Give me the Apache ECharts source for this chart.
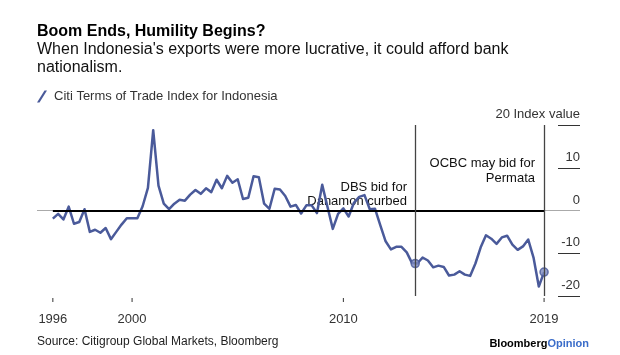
<!DOCTYPE html>
<html><head><meta charset="utf-8">
<script src="https://cdn.jsdelivr.net/npm/echarts@6/dist/echarts.min.js"></script>
<style>html,body{margin:0;padding:0;background:#fff}#c{width:620px;height:355px}</style>
</head><body><div id="c"></div>
<script>
// Citi Terms of Trade Index for Indonesia, quarterly, first point 1996 Q1
const firstQuarter = 1996.25;
const tradeIndex = [
  -1.9, -0.8, -2.1, 0.9, -3.1, -2.7, 0.3, -5.0, -4.5, -5.2,
  -4.1, -6.7, -5.0, -3.3, -1.8, -1.8, -1.8, 1.0, 5.3, 18.8,
  5.8, 1.6, 0.3, 1.6, 2.5, 2.3, 3.7, 4.8, 3.9, 5.2,
  4.3, 7.2, 5.2, 8.1, 6.5, 7.3, 2.7, 3.0, 8.0, 7.8,
  1.6, 0.4, 5.1, 4.9, 3.4, 0.9, 1.3, -0.7, 1.2, 1.2,
  -0.6, 6.0, 0.8, -4.3, -0.8, 0.5, -1.4, 1.8, 3.2, 3.6,
  0.3, 0.4, -3.5, -7.2, -9.1, -8.5, -8.5, -9.8, -12.3, -12.4,
  -11.0, -11.7, -13.3, -12.9, -13.2, -15.2, -15.0, -14.2, -15.0, -15.3,
  -12.4, -8.6, -5.8, -6.6, -7.8, -6.3, -5.9, -8.0, -9.2, -8.4,
  -6.8, -11.0, -17.8, -14.4
];
const quarterDates = tradeIndex.map((_, i) => firstQuarter + i * 0.25);

const xTickValues = [1996.25, 2000, 2010, 2019.5];
const xTickLabels = ['1996', '2000', '2010', '2019'];
const yTopLabel = '20 Index value';

const eventDates = [2013.4, 2019.5];
const eventValues = [-12.4, -14.4];
const eventTexts = ['DBS bid for\nDanamon curbed', 'OCBC may bid for\nPermata'];

const titleText = 'Boom Ends, Humility Begins?';
const subtitleText = "When Indonesia's exports were more lucrative, it could afford bank\nnationalism.";
const seriesName = 'Citi Terms of Trade Index for Indonesia';
const sourceText = 'Source: Citigroup Global Markets, Bloomberg';

const FONT = '"Liberation Sans", Arial, Helvetica, sans-serif';
const LINE = '#4a5a9a';
const Y_MIN = -20, Y_MAX = 20;

const chart = echarts.init(document.getElementById('c'), null, {renderer: 'canvas'});

const baseGraphic = [
  {type: 'text', x: 407, y: 180, style: {text: eventTexts[0], align: 'right', verticalAlign: 'top', fontSize: 13, lineHeight: 14, fontFamily: FONT, fill: '#111'}},
  {type: 'text', x: 535, y: 156, style: {text: eventTexts[1], align: 'right', verticalAlign: 'top', fontSize: 13, lineHeight: 15, fontFamily: FONT, fill: '#111'}},
  {type: 'text', x: 37, y: 342, style: {text: sourceText, align: 'left', verticalAlign: 'middle', fontSize: 12, fontFamily: FONT, fill: '#222'}},
  {type: 'text', x: 589, y: 344, style: {
    text: '{a|Bloomberg}{b|Opinion}', align: 'right', verticalAlign: 'middle',
    rich: {
      a: {fontSize: 11, fontWeight: 'bold', fill: '#000', fontFamily: FONT},
      b: {fontSize: 11, fontWeight: 'bold', fill: '#3a6cc9', fontFamily: FONT}
    }
  }}
];

const option = {
  backgroundColor: '#fff',
  animation: false,
  textStyle: {fontFamily: FONT},
  title: {
    text: titleText, subtext: subtitleText,
    left: 37, top: 23, padding: 0, itemGap: 0,
    textStyle: {fontSize: 16, fontWeight: 'bold', color: '#000', lineHeight: 18, fontFamily: FONT},
    subtextStyle: {fontSize: 16, color: '#111', lineHeight: 18, fontFamily: FONT}
  },
  legend: {
    left: 37, top: 90, padding: 0,
    itemWidth: 10, itemHeight: 12, itemGap: 10,
    icon: 'path://M0,12 L7.5,0 L10,0 L2.5,12 Z',
    textStyle: {fontSize: 13, color: '#333', fontFamily: FONT, padding: [0, 0, 0, 2]},
    data: [seriesName]
  },
  grid: {left: 37, right: 40, top: 125, bottom: 59},
  xAxis: {
    type: 'value', min: 1995.5, max: 2021.2,
    axisLine: {show: false},
    splitLine: {show: false},
    axisTick: {show: false},
    axisLabel: {
      customValues: xTickValues, margin: 17,
      fontSize: 13, color: '#333', fontFamily: FONT,
      formatter: function (v) {
        let best = 0;
        for (let i = 1; i < xTickValues.length; i++) {
          if (Math.abs(xTickValues[i] - v) < Math.abs(xTickValues[best] - v)) best = i;
        }
        return xTickLabels[best];
      }
    }
  },
  yAxis: {
    type: 'value', position: 'right', min: Y_MIN, max: Y_MAX, interval: 10,
    axisLine: {show: false},
    splitLine: {show: false},
    axisTick: {show: true, inside: true, length: 22, lineStyle: {color: '#333', width: 1}},
    axisLabel: {
      inside: true, margin: 0, fontSize: 13, color: '#333', fontFamily: FONT,
      verticalAlign: 'bottom', padding: [0, 0, 4, 0],
      formatter: function (v) { return v === Y_MAX ? yTopLabel : String(v); }
    }
  },
  series: [
    {
      name: 'refs', type: 'line', data: [], z: 1, silent: true,
      markLine: {
        silent: true, symbol: 'none', animation: false,
        label: {show: false},
        data: [
          {yAxis: 0, lineStyle: {color: '#aaa', width: 1, type: 'solid'}},
          [{coord: [quarterDates[0], 0]}, {coord: [quarterDates[quarterDates.length - 1], 0], lineStyle: {color: '#000', width: 2.2, type: 'solid'}}],
          {xAxis: eventDates[0], lineStyle: {color: '#444', width: 1.3, type: 'solid'}},
          {xAxis: eventDates[1], lineStyle: {color: '#444', width: 1.3, type: 'solid'}}
        ]
      }
    },
    {
      name: seriesName, type: 'line', z: 3,
      data: quarterDates.map((d, i) => [d, tradeIndex[i]]),
      showSymbol: false, symbol: 'none',
      lineStyle: {color: LINE, width: 2.5, join: 'round'},
      itemStyle: {color: LINE}
    },
    {
      name: 'events', type: 'scatter', z: 4,
      data: eventDates.map((d, i) => [d, eventValues[i]]),
      symbolSize: 8,
      itemStyle: {color: '#7d89bf', borderColor: LINE, borderWidth: 1.6}
    }
  ],
  graphic: baseGraphic
};
chart.setOption(option);

// x-axis tick marks placed through the axis scale
const tickGraphics = xTickValues.map(function (v) {
  const p = chart.convertToPixel({gridIndex: 0}, [v, Y_MIN]);
  return {type: 'line', shape: {x1: p[0], y1: p[1] + 2, x2: p[0], y2: p[1] + 6}, style: {stroke: '#333', lineWidth: 1}, silent: true};
});
option.graphic = baseGraphic.concat(tickGraphics);
chart.setOption(option, true);
</script>
</body></html>
